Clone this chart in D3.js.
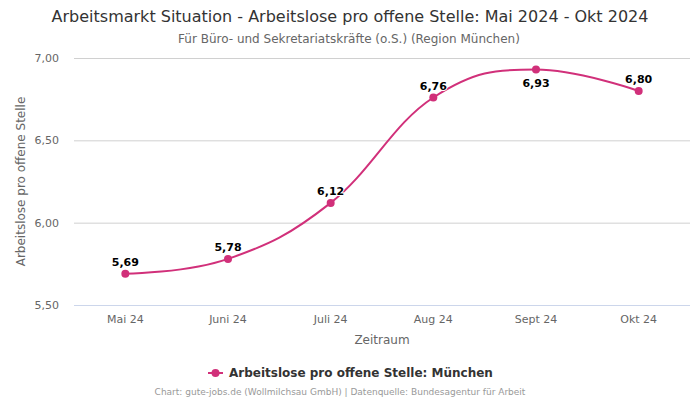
<!DOCTYPE html>
<html><head><meta charset="utf-8">
<script src="https://cdn.jsdelivr.net/npm/d3@7/dist/d3.min.js"></script>
<style>body{margin:0;background:#fff;font-family:"DejaVu Sans",sans-serif;}</style>
</head><body><svg id="c" width="700" height="400"></svg>
<script>
const categories = ["Mai 24","Juni 24","Juli 24","Aug 24","Sept 24","Okt 24"];
const values = [5.69, 5.78, 6.12, 6.76, 6.93, 6.80];
const yTicks = [5.5, 6.0, 6.5, 7.0];
const seriesName = "Arbeitslose pro offene Stelle: München";
const color = "#d1307a";

const svg = d3.select("#c");
const m = {l:74, r:690, t:58, b:305};
const x = d3.scaleBand().domain(categories).range([m.l, m.r]);
const y = d3.scaleLinear().domain([5.5, 7.0]).range([m.b, m.t]);
const fmt = v => v.toFixed(2).replace(".", ",");

svg.append("text").attr("x",350).attr("y",22).attr("text-anchor","middle")
  .attr("font-size",16).attr("fill","#333").text("Arbeitsmarkt Situation - Arbeitslose pro offene Stelle: Mai 2024 - Okt 2024");
svg.append("text").attr("x",349).attr("y",43).attr("text-anchor","middle")
  .attr("font-size",12).attr("fill","#666").text("Für Büro- und Sekretariatskräfte (o.S.) (Region München)");

// grid
const ya = svg.append("g").attr("transform",`translate(${m.l},0)`)
  .call(d3.axisLeft(y).tickValues(yTicks).tickSize(-(m.r-m.l)).tickFormat(fmt));
ya.select(".domain").remove();
ya.selectAll(".tick line").attr("stroke","#d0d0d0");
ya.selectAll(".tick text").attr("x",-15).attr("font-size",11).attr("fill","#666").attr("font-family","DejaVu Sans");
ya.selectAll(".tick").filter(d=>d===5.5).select("line").attr("stroke","#ccd6eb");

const xa = svg.append("g").attr("transform",`translate(0,${m.b})`)
  .call(d3.axisBottom(x).tickSize(0).tickPadding(10));
xa.select(".domain").remove();
xa.selectAll(".tick text").attr("font-size",11).attr("fill","#666").attr("font-family","DejaVu Sans");

svg.append("text").attr("x",(m.l+m.r)/2).attr("y",344).attr("text-anchor","middle")
  .attr("font-size",12).attr("fill","#666").text("Zeitraum");
svg.append("text").attr("transform",`translate(25,${(m.t+m.b)/2}) rotate(-90)`).attr("text-anchor","middle")
  .attr("font-size",12).attr("fill","#666").text("Arbeitslose pro offene Stelle");

// Highcharts-style spline
const pts = values.map((v,i)=>({x:x(categories[i])+x.bandwidth()/2, y:y(v)}));
function splinePath(p){
  const s=1.5, d=2.5;
  p.forEach((pt,i)=>{
    if(i>0 && i<p.length-1){
      const a=p[i-1], b=p[i+1];
      let lx=(s*pt.x+a.x)/d, ly=(s*pt.y+a.y)/d, rx=(s*pt.x+b.x)/d, ry=(s*pt.y+b.y)/d;
      if(rx!==lx){const c=((ry-ly)*(rx-pt.x))/(rx-lx)+pt.y-ry; ly+=c; ry+=c;}
      if(ly>a.y&&ly>pt.y){ly=Math.max(a.y,pt.y);ry=2*pt.y-ly;}
      else if(ly<a.y&&ly<pt.y){ly=Math.min(a.y,pt.y);ry=2*pt.y-ly;}
      if(ry>b.y&&ry>pt.y){ry=Math.max(b.y,pt.y);ly=2*pt.y-ry;}
      else if(ry<b.y&&ry<pt.y){ry=Math.min(b.y,pt.y);ly=2*pt.y-ry;}
      pt.lx=lx;pt.ly=ly;pt.rx=rx;pt.ry=ry;
    }
  });
  let str=`M${p[0].x},${p[0].y}`;
  for(let i=1;i<p.length;i++){
    const a=p[i-1], b=p[i];
    str+=`C${a.rx??a.x},${a.ry??a.y},${b.lx??b.x},${b.ly??b.y},${b.x},${b.y}`;
  }
  return str;
}
svg.append("path").attr("d",splinePath(pts)).attr("fill","none").attr("stroke",color).attr("stroke-width",2);
svg.selectAll("circle.pt").data(pts).enter().append("circle").attr("cx",d=>d.x).attr("cy",d=>d.y).attr("r",4).attr("fill",color);
svg.selectAll("text.lbl").data(values).enter().append("text")
  .attr("x",(d,i)=>pts[i].x).attr("y",(d,i)=> i===4 ? pts[i].y+17 : pts[i].y-8)
  .attr("text-anchor","middle").attr("font-size",11).attr("font-weight","bold").attr("fill","#000")
  .attr("stroke","#fff").attr("stroke-width",2).attr("paint-order","stroke").text(fmt);

// legend
const lg = svg.append("g");
lg.append("line").attr("x1",208).attr("x2",223).attr("y1",373).attr("y2",373).attr("stroke",color).attr("stroke-width",2);
lg.append("circle").attr("cx",215.5).attr("cy",373).attr("r",4).attr("fill",color);
lg.append("text").attr("x",229).attr("y",377).attr("font-size",12).attr("font-weight","bold").attr("fill","#333").text(seriesName);

svg.append("text").attr("x",340).attr("y",395).attr("text-anchor","middle").attr("font-size",9).attr("fill","#999")
  .text("Chart: gute-jobs.de (Wollmilchsau GmbH) | Datenquelle: Bundesagentur für Arbeit");
</script></body></html>
